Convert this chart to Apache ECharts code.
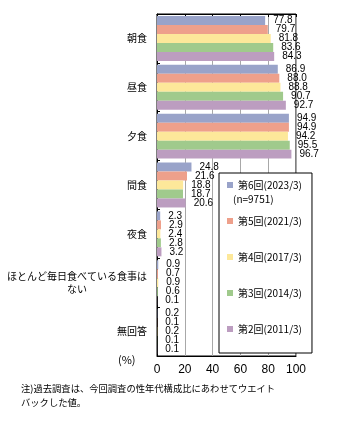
<!DOCTYPE html>
<html>
<head>
<meta charset="utf-8">
<script src="https://cdn.jsdelivr.net/npm/echarts@6/dist/echarts.min.js"></script>
<style>
html,body{margin:0;padding:0;background:#fff;}
#c{width:341px;height:422px;}
</style>
</head>
<body>
<div id="c"></div>
<script>
const categories = ['朝食', '昼食', '夕食', '間食', '夜食', 'ほとんど毎日食べている食事は\nない　　　　　　', '無回答'];
const seriesNames = ['第6回(2023/3)', '第5回(2021/3)', '第4回(2017/3)', '第3回(2014/3)', '第2回(2011/3)'];
const round6 = [77.8, 86.9, 94.9, 24.8, 2.3, 0.9, 0.2];
const round5 = [79.7, 88.0, 94.9, 21.6, 2.9, 0.7, 0.1];
const round4 = [81.8, 88.8, 94.2, 18.8, 2.4, 0.9, 0.2];
const round3 = [83.6, 90.7, 95.5, 18.7, 2.8, 0.6, 0.1];
const round2 = [84.3, 92.7, 96.7, 20.6, 3.2, 0.1, 0.1];
const xTicks = [0, 20, 40, 60, 80, 100];

const colors = ['#99a3c9', '#eea08b', '#fde89a', '#a0ca8c', '#bc9dc0'];
const allData = [round6, round5, round4, round3, round2];
const cjk = '"Noto Sans CJK JP", sans-serif';
const narrow = '"Liberation Sans Narrow", "Liberation Sans", sans-serif';

const chart = echarts.init(document.getElementById('c'));
chart.setOption({
  animation: false,
  grid: { left: 157, right: 45, top: 14, bottom: 66, show: true, borderColor: '#000', borderWidth: 1, backgroundColor: 'transparent' },
  legend: {
    orient: 'vertical', left: 219, top: 173,
    data: seriesNames,
    icon: 'rect', itemWidth: 6, itemHeight: 6, itemGap: 24,
    padding: [6, 10, 18, 8],
    backgroundColor: '#fff', borderColor: '#000', borderWidth: 1,
    textStyle: { fontFamily: cjk, fontSize: 10, color: '#000', lineHeight: 12 },
    selectedMode: false
  },
  graphic: [
    { type: 'text', left: 233, top: 194, z: 10, style: { text: '(n=9751)', font: '10px ' + cjk, fill: '#000' } },
    { type: 'text', left: 118, top: 354, style: { text: '(%)', font: '11px ' + cjk, fill: '#000' } },
    { type: 'text', left: 21, top: 381, style: { text: '注)過去調査は、今回調査の性年代構成比にあわせてウエイト\nバックした値。', font: '9.3px ' + cjk, fill: '#000', lineHeight: 14 } }
  ],
  xAxis: [
    {
      type: 'value', min: xTicks[0], max: xTicks[xTicks.length - 1], interval: 20, position: 'bottom',
      axisLine: { show: true, lineStyle: { color: '#000' } },
      axisTick: { show: false },
      axisLabel: { fontFamily: narrow, fontSize: 12, color: '#000', margin: 8 },
      splitLine: { show: true, lineStyle: { color: '#a8a8a8', width: 1 } }
    },
    {
      type: 'value', min: xTicks[0], max: xTicks[xTicks.length - 1], interval: 20, position: 'top',
      axisLine: { show: true, lineStyle: { color: '#000' } },
      axisTick: { show: true, inside: true, length: 3, lineStyle: { color: '#000' } },
      axisLabel: { show: false },
      splitLine: { show: false }
    }
  ],
  yAxis: {
    type: 'category', data: categories, inverse: true,
    axisLine: { show: true, lineStyle: { color: '#000' } },
    axisTick: { show: true, inside: true, length: 3, lineStyle: { color: '#000' } },
    axisLabel: { fontFamily: cjk, fontSize: 10, color: '#000', margin: 10, lineHeight: 13 }
  },
  series: seriesNames.map((name, i) => ({
    name: name, type: 'bar', data: allData[i],
    barGap: '0%', barCategoryGap: '8%',
    itemStyle: { color: colors[i] },
    label: {
      show: true, position: 'right', distance: 8,
      fontFamily: narrow, fontSize: 10, color: '#000',
      formatter: p => p.value.toFixed(1)
    }
  }))
});
</script>
</body>
</html>
